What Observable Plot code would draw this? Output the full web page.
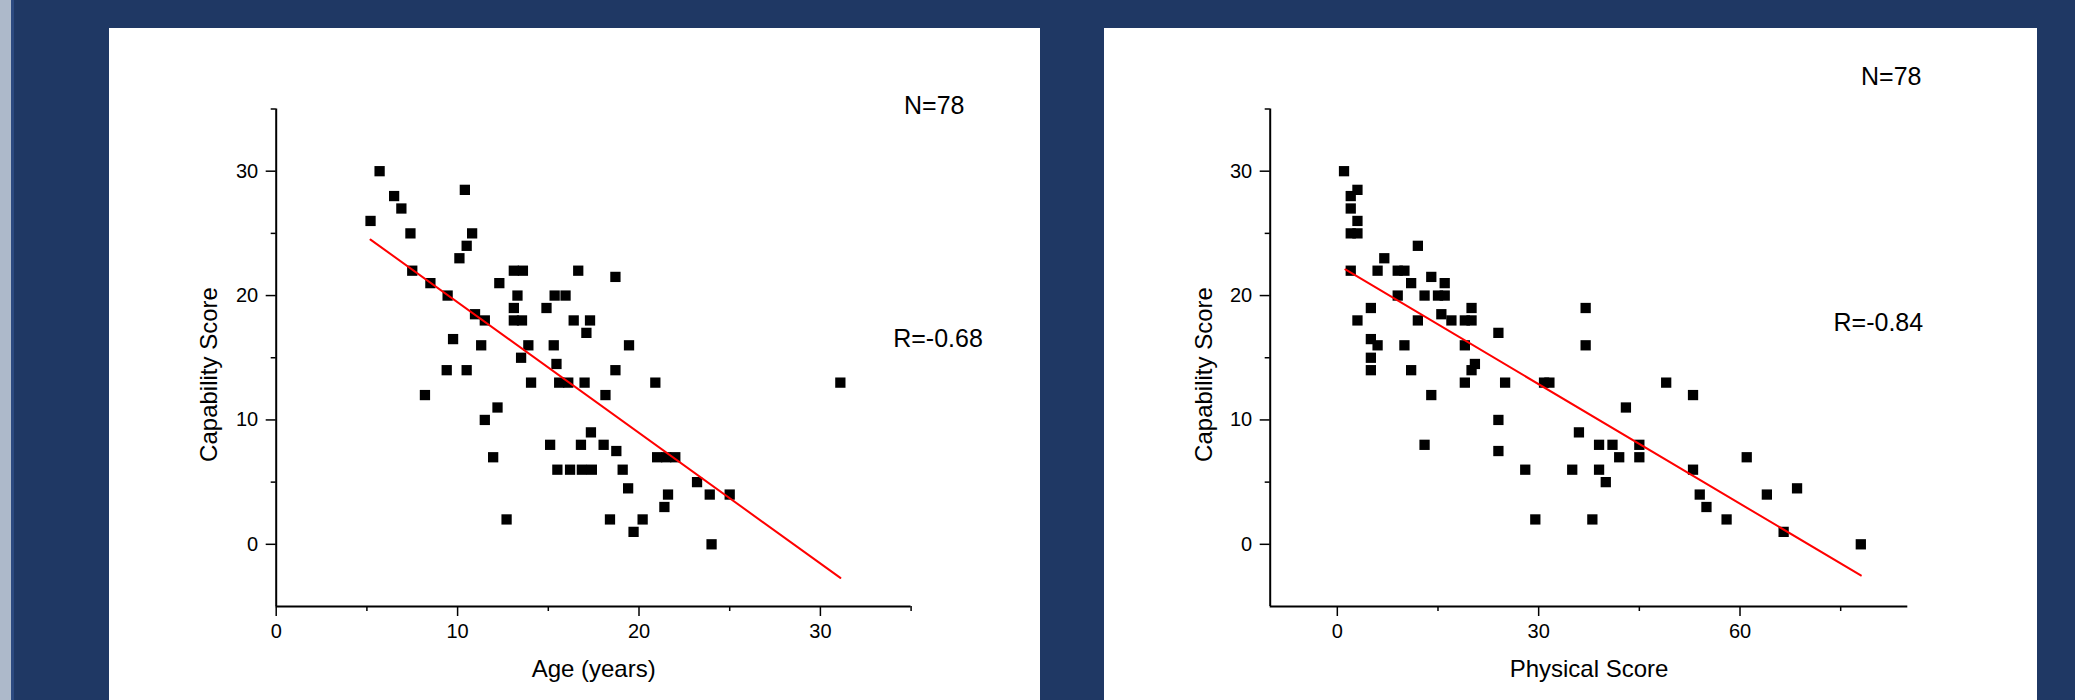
<!DOCTYPE html>
<html>
<head>
<meta charset="utf-8">
<script src="https://cdn.jsdelivr.net/npm/d3@7"></script>
<script src="https://cdn.jsdelivr.net/npm/@observablehq/plot@0.6"></script>
<style>
  html, body { margin: 0; padding: 0; }
  body { width: 2075px; height: 700px; background: #1f3864; position: relative; overflow: hidden; font-family: "Liberation Sans", Arial, sans-serif; }
  #strip { position: absolute; left: 0; top: 0; width: 11px; height: 700px; background: #adb9ca; }
  #strip2 { position: absolute; left: 11px; top: 0; width: 3px; height: 700px; background: #2c4a80; }
  .panel { position: absolute; top: 28px; height: 672px; background: #ffffff; }
  #p1 { left: 109px; width: 931px; }
  #p2 { left: 1104px; width: 933px; }
</style>
</head>
<body>
<div id="strip"></div><div id="strip2"></div>
<div class="panel" id="p1"></div>
<div class="panel" id="p2"></div>
<script>
// ---- Left chart: Age vs Capability ----
const ageX = [5.2,5.7,6.5,6.9,7.4,7.5,8.5,8.2,9.45,9.4,9.75,10.1,10.4,10.5,10.8,10.5,10.96,11.5,11.3,11.5,11.96,12.2,12.3,12.7,13.1,13.6,13.3,13.1,13.1,13.55,13.5,13.9,14.05,14.9,15.1,15.3,15.35,15.95,15.45,15.5,15.6,16.1,16.4,16.65,16.8,16.2,16.85,17.4,17.0,17.1,17.3,17.35,18.05,18.15,18.4,18.7,18.7,18.75,19.1,19.4,19.45,19.7,20.2,20.9,21.0,21.5,22.0,21.4,21.6,23.2,23.9,24.0,25.0,31.1];
const ageY = [26,30,28,27,25,22,21,12,20,14,16.5,23,28.5,24,25,14,18.5,18,16,10,7,11,21,2,22,22,20,19,18,18,15,16,13,19,8,16,20,20,14.5,6,13,13,18,22,8,6,6,6,13,17,18,9,8,12,2,21.5,14,7.5,6,4.5,16,1,2,13,7,7,7,3,4,5,4,0,4,13];
const ageFitX = [5.2, 31.1];
const ageFitY = [24.5, -2.7];

// ---- Right chart: Physical vs Capability ----
const physX = [1,3,2,2,3,2,3,2,12,7,6,9,10,14,11,16,9,13,15,16,5,20,3,12,15.5,17,19,20,24,5,6,10,19,20.5,20,5,5,11,19,25,30.8,31.6,14,24,36,13,24,28,35,29.5,38,37,37,49,53,43,39,41,45,45,42,39,40,53,61,54,55,64,68.5,58,66.5,78];
const physY = [30,28.5,28,27,26,25,25,22,24,23,22,22,22,21.5,21,21,20,20,20,20,19,19,18,18,18.5,18,18,18,17,16.5,16,16,16,14.5,14,15,14,14,13,13,13,13,12,10,9,8,7.5,6,6,2,2,19,16,13,12,11,8,8,8,7,7,6,5,6,7,4,3,4,4.5,2,1,0];
const physFitX = [1.2, 78];
const physFitY = [22.1, -2.5];

const yTicks = [0, 10, 20, 30];
const yMinor = [5, 15, 25, 35];
const ageTicks = [0, 10, 20, 30];
const ageMinor = [5, 15, 25, 35];
const physTicks = [0, 30, 60];
const physMinor = [15, 45, 75];

const yLabel = "Capability Score";
const nText = "N=78";

function chart(cfg) {
  const pts = cfg.xs.map((x, i) => ({x, y: cfg.ys[i]}));
  const fit = cfg.fx.map((x, i) => ({x, y: cfg.fy[i]}));
  return Plot.plot({
    width: cfg.width,
    height: 672,
    marginLeft: cfg.ml,
    marginRight: cfg.mr,
    marginTop: 80.5,
    marginBottom: 94,
    style: {background: "transparent", fontFamily: "'Liberation Sans', Arial, sans-serif", color: "#000", overflow: "visible"},
    x: {domain: cfg.xdom, label: null},
    y: {domain: [-5, 35], label: null},
    marks: [
      Plot.axisX(cfg.xticks, {tickSize: 10, tickPadding: 7, fontSize: 20, strokeWidth: 1.5, label: null, tickFormat: d => String(d)}),
      Plot.axisX(cfg.xminor, {tickSize: 5, strokeWidth: 1.5, text: null, label: null}),
      Plot.axisY(yTicks, {tickSize: 10, tickPadding: 8, fontSize: 20, strokeWidth: 1.5, label: null, tickFormat: d => String(d)}),
      Plot.axisY(yMinor, {tickSize: 5, strokeWidth: 1.5, text: null, label: null}),
      Plot.ruleY([-5], {x1: cfg.xdom[0], x2: cfg.xdom[1], stroke: "#000", strokeWidth: 2}),
      Plot.ruleX([cfg.xdom[0]], {y1: -5, y2: 35, stroke: "#000", strokeWidth: 2}),
      Plot.dot(pts, {x: "x", y: "y", symbol: "square", r: 5.8, fill: "#000"}),
      Plot.line(fit, {x: "x", y: "y", stroke: "#ff0000", strokeWidth: 2}),
      Plot.text([yLabel], {frameAnchor: "top-left", rotate: -90, dx: cfg.ylx, dy: 265.5, fontSize: 24, textAnchor: "middle", lineAnchor: "middle", fill: "#000"}),
      Plot.text([cfg.xlabel], {frameAnchor: "bottom", dy: 70, fontSize: 24, textAnchor: "middle", lineAnchor: "bottom", fill: "#000"}),
      Plot.text([nText], {frameAnchor: "top-left", dx: cfg.ndx, dy: cfg.ndy, fontSize: 25, textAnchor: "start", lineAnchor: "bottom", fill: "#000"}),
      Plot.text([cfg.rtext], {frameAnchor: "top-left", dx: cfg.rdx, dy: cfg.rdy, fontSize: 25, textAnchor: "start", lineAnchor: "bottom", fill: "#000"})
    ]
  });
}

const c1 = chart({xs: ageX, ys: ageY, fx: ageFitX, fy: ageFitY, width: 931, ml: 166.7, mr: 129.4,
  xdom: [0, 35], xticks: ageTicks, xminor: ageMinor, xlabel: "Age (years)", ylx: -66.5,
  ndx: 627.8, ndy: 5.3, rtext: "R=-0.68", rdx: 617, rdy: 238.2});
const c2 = chart({xs: physX, ys: physY, fx: physFitX, fy: physFitY, width: 933, ml: 165.7, mr: 129.7,
  xdom: [-10, 85], xticks: physTicks, xminor: physMinor, xlabel: "Physical Score", ylx: -65.5,
  ndx: 590.8, ndy: -24.5, rtext: "R=-0.84", rdx: 563.3, rdy: 221.5});
document.getElementById("p1").appendChild(c1);
document.getElementById("p2").appendChild(c2);
</script>
</body>
</html>
